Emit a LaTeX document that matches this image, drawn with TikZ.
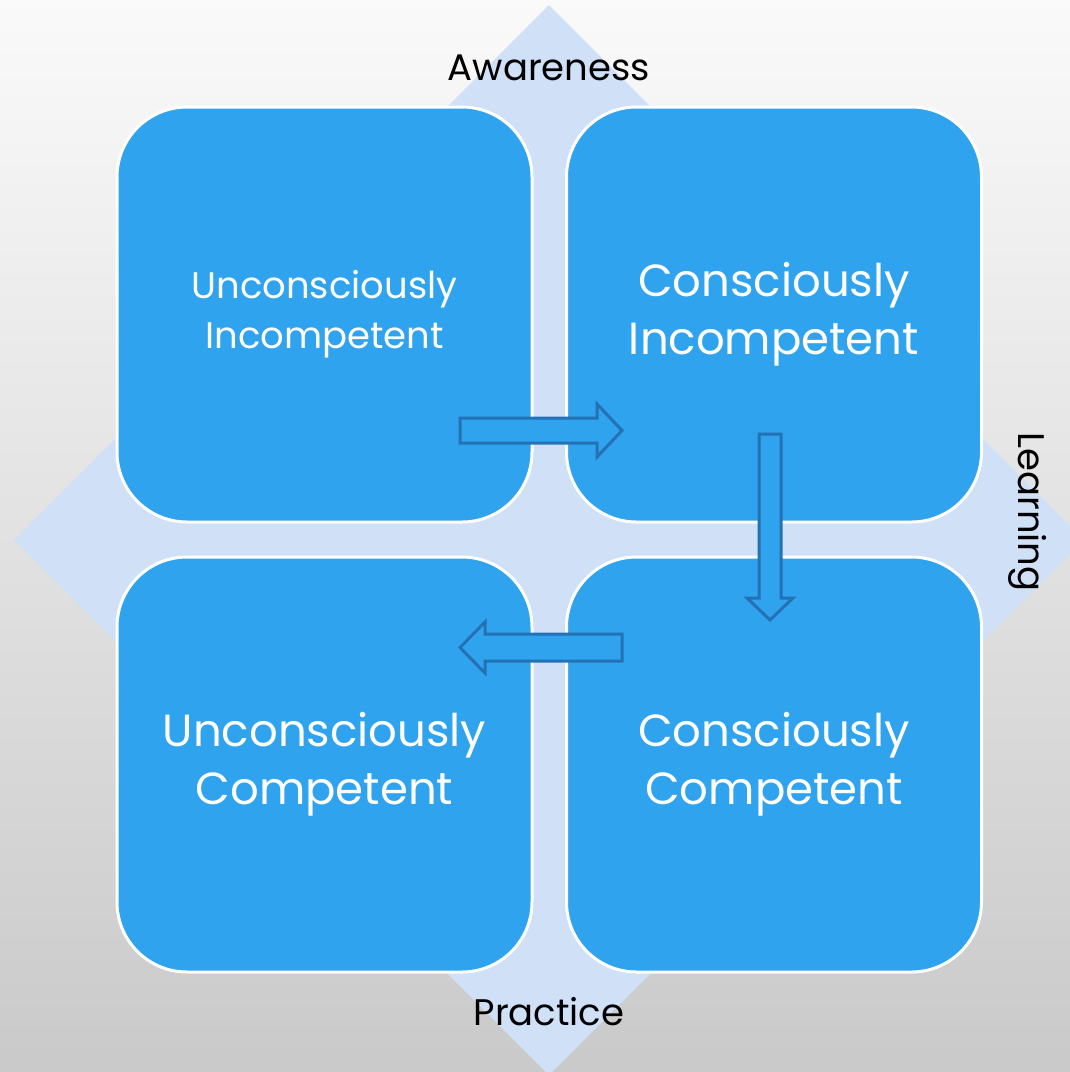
\documentclass[tikz,border=0pt]{standalone}
\usepackage{fontspec}
\setmainfont{Poppins}
\definecolor{boxblue}{RGB}{47,163,238}
\definecolor{diamblue}{RGB}{207,224,247}
\definecolor{arrowblue}{RGB}{36,114,180}
\tikzset{
  quad/.style={rectangle, rounded corners=70pt, minimum width=415pt, minimum height=415pt,
    fill=boxblue, draw=white, line width=3pt, text=white, align=center, inner sep=0pt},
  bigtext/.style={font=\fontsize{45}{58}\selectfont},
  smalltext/.style={font=\fontsize{37}{50}\selectfont},
  axislabel/.style={text=black, font=\fontsize{37}{40}\selectfont, inner sep=0pt},
  blockarrow/.style={fill=boxblue, draw=arrowblue, line width=3pt, line join=miter}
}
\begin{document}
\begin{tikzpicture}[x=1pt,y=-1pt]
\useasboundingbox (0,0) rectangle (1070,1072);
\shade[top color=black!2, bottom color=black!21] (0,0) rectangle (1070,1072);
\begin{scope}
  \clip (0,0) rectangle (1070,1072);
  \fill[diamblue] (549,5) -- (1084,540) -- (549,1075) -- (14,540) -- cycle;
\end{scope}
\node[quad, smalltext] (ui) at (324.5,314.5) {Unconsciously\\Incompetent};
\node[quad, bigtext] (ci) at (774,314.5) {Consciously\\Incompetent};
\node[quad, bigtext] (uc) at (324.5,764.5) {Unconsciously\\Competent};
\node[quad, bigtext] (cc) at (774,764.5) {Consciously\\Competent};
\draw[blockarrow] (460,418) -- (597,418) -- (597,404) -- (622,430.5) -- (597,457) -- (597,443) -- (460,443) -- cycle;
\draw[blockarrow] (759,434) -- (781,434) -- (781,598) -- (793,598) -- (770,620) -- (747,598) -- (759,598) -- cycle;
\draw[blockarrow] (622,634) -- (485,634) -- (485,622) -- (460,647.5) -- (485,673) -- (485,661) -- (622,661) -- cycle;
\node[axislabel] (aw) at (549,68) {Awareness};
\node[axislabel] (pr) at (549,1012) {Practice};
\node[axislabel, rotate=-90] (le) at (1028,512) {Learning};
\end{tikzpicture}
\end{document}
